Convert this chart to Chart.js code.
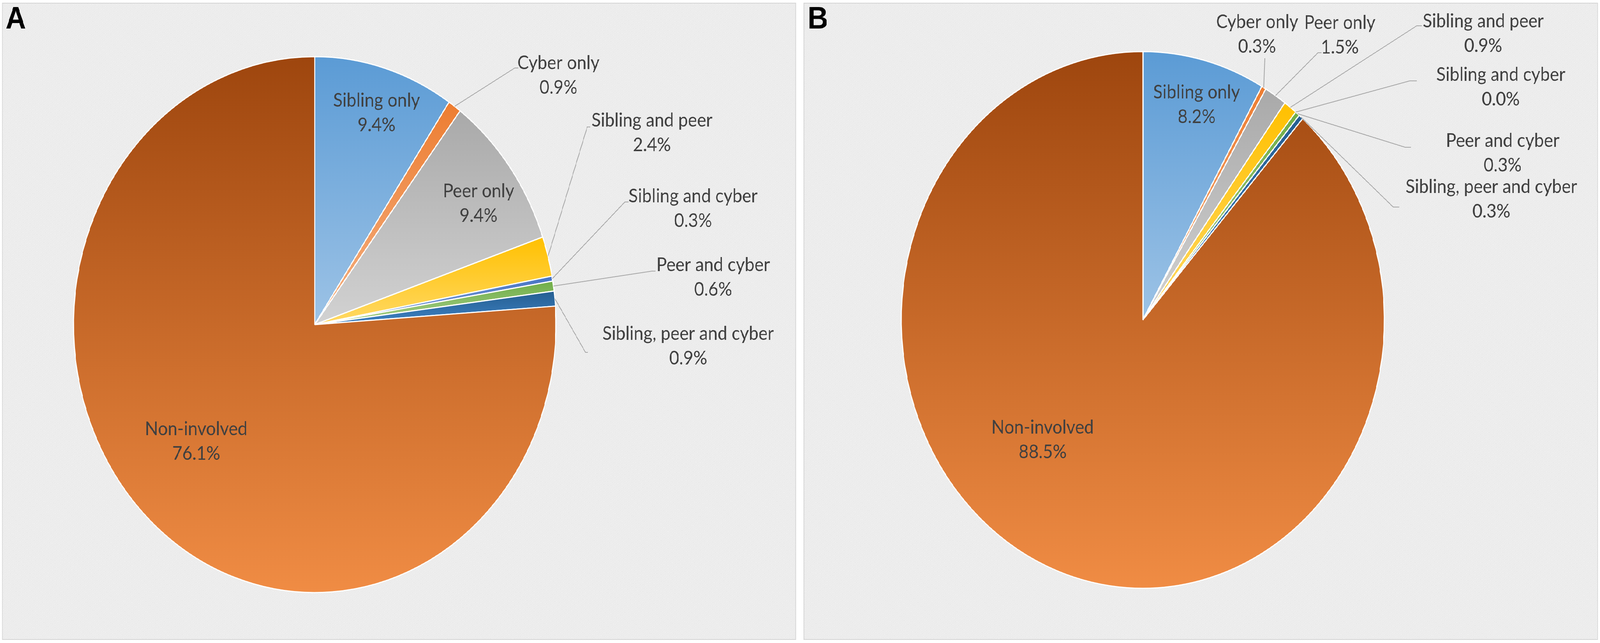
<!DOCTYPE html>
<html>
<head>
<meta charset="utf-8">
<script src="https://cdn.jsdelivr.net/npm/chart.js@4/dist/chart.umd.min.js"></script>
<style>
html,body{margin:0;padding:0;background:#ffffff;overflow:hidden;}
#stage{position:absolute;left:0;top:0;width:4550px;height:1646px;transform-origin:0 0;background:#ffffff;}
.panel{position:absolute;top:7px;height:1631px;box-sizing:border-box;border:2px solid #d4d4d4;
  background:repeating-linear-gradient(45deg,#f3f3f3 0px,#f3f3f3 1.6px,#e6e6e6 1.6px,#e6e6e6 3.2px);}
#pA{left:6px;width:2258px;}
#pB{left:2285px;width:2259px;}
canvas{position:absolute;left:0;top:0;}
</style>
</head>
<body>
<div id="stage">
<div class="panel" id="pA"></div>
<div class="panel" id="pB"></div>
<canvas id="cA" width="4550" height="1646"></canvas>
<canvas id="cB" width="4550" height="1646"></canvas>
</div>
<script>
// ---------- data ----------
const categories = ['Sibling only','Cyber only','Peer only','Sibling and peer','Sibling and cyber','Peer and cyber','Sibling, peer and cyber','Non-involved'];
const valuesA = [9.4, 0.9, 9.4, 2.4, 0.3, 0.6, 0.9, 76.1];
const valuesB = [8.2, 0.3, 1.5, 0.9, 0.0, 0.3, 0.3, 88.5];
const panelTitles = ['A', 'B'];

// ---------- style / layout ----------
const topColors    = ['#5B9BD5','#ED7D31','#A9A9A9','#FFC000','#4472C4','#70AD47','#255E91','#9E460E'];
const bottomColors = ['#9DC3E6','#F4B183','#D2D2D2','#FFD966','#8FAADC','#A9D18E','#3E82C4','#F08C44'];
const geomA = {cx: 895, cy: 831, r: 686};
const geomB = {cx: 3250, cy: 819, r: 687};
// label anchor: [center x, first-line baseline]
const labelPosA = [[1071,273],[1588,177],[1361,505],[1854,324],[1971,518],[2028,694],[1957,870],[558,1114]];
const labelPosB = [[3403,252],[3575,72],[3810,74],[4218,70],[4268,207],[4273,376],[4241,494],[2965,1110]];
// leader line end: [x, y, horizontal tail length]
const leaderA = [null,[1474,174,10],null,[1679,325,9],[1787,517,10],[1864,694,10],[1672,902,7],null];
const leaderB = [null,[3597,149,0],[3758,135,10],[4043,66,14],[4029,207,20],[4012,377,16],[3979,530,17],null];
const titleX = [16, 2297];
const W = 4550, H = 1646;

// fit the 4550x1646 design into whatever viewport the browser really has
(function fit() {
  const sx = (window.innerWidth || W) / W, sy = (window.innerHeight || H) / H;
  document.getElementById('stage').style.transform = 'scale(' + sx + ',' + sy + ')';
})();

function makeGradient(ctx, geom) {
  const chart = ctx.chart, area = chart.chartArea, i = ctx.dataIndex;
  if (!area) return topColors[i];
  const data = ctx.dataset.data;
  const total = data.reduce((a, b) => a + b, 0);
  let before = 0;
  for (let k = 0; k < i; k++) before += data[k];
  const a0 = -Math.PI / 2 + 2 * Math.PI * before / total;
  const a1 = a0 + 2 * Math.PI * data[i] / total;
  const cx = (area.left + area.right) / 2, cy = (area.top + area.bottom) / 2, r = geom.r;
  const ys = [cy, cy + r * Math.sin(a0), cy + r * Math.sin(a1)];
  if (a0 <= Math.PI / 2 && a1 >= Math.PI / 2) ys.push(cy + r);
  let y0 = Math.min(...ys), y1 = Math.max(...ys);
  if (y1 - y0 < 2) y1 = y0 + 2;
  const g = chart.ctx.createLinearGradient(0, y0, 0, y1);
  g.addColorStop(0, topColors[i]);
  g.addColorStop(1, bottomColors[i]);
  return g;
}

function build(fontSize) {
  const lineGap = 63;
  function makeChart(id, values, geom, labelPos, leaders, title, tx) {
    const pad = {left: geom.cx - geom.r, right: W - (geom.cx + geom.r), top: geom.cy - geom.r, bottom: H - (geom.cy + geom.r)};
    const labelPlugin = {
      id: 'labels_' + id,
      afterDraw(chart) {
        const c = chart.ctx, meta = chart.getDatasetMeta(0);
        c.save();
        c.strokeStyle = '#A6A6A6';
        c.lineWidth = 2;
        leaders.forEach((L, i) => {
          if (!L) return;
          const arc = meta.data[i];
          const mid = (arc.startAngle + arc.endAngle) / 2;
          const sx = arc.x + arc.outerRadius * Math.cos(mid);
          const sy = arc.y + arc.outerRadius * Math.sin(mid);
          c.beginPath();
          c.moveTo(sx, sy);
          c.lineTo(L[0] - L[2], L[1]);
          c.lineTo(L[0], L[1]);
          c.stroke();
        });
        c.fillStyle = '#404040';
        c.font = fontSize.toFixed(2) + 'px Lato';
        c.textAlign = 'center';
        c.textBaseline = 'alphabetic';
        labelPos.forEach((p, i) => {
          c.fillText(categories[i], p[0], p[1]);
          c.fillText(values[i].toFixed(1) + '%', p[0], p[1] + lineGap);
        });
        c.fillStyle = '#000000';
        c.font = 'bold 80px "Liberation Sans"';
        c.textAlign = 'left';
        c.fillText(title, tx, 73);
        c.restore();
      }
    };
    return new Chart(document.getElementById(id), {
      type: 'pie',
      data: {
        labels: categories,
        datasets: [{
          data: values,
          backgroundColor: (ctx) => makeGradient(ctx, geom),
          borderColor: '#FFFFFF',
          borderWidth: 3
        }]
      },
      options: {
        responsive: false,
        devicePixelRatio: 1,
        animation: false,
        events: [],
        radius: geom.r,
        layout: {padding: pad},
        plugins: {legend: {display: false}, tooltip: {enabled: false}}
      },
      plugins: [labelPlugin]
    });
  }
  makeChart('cA', valuesA, geomA, labelPosA, leaderA, panelTitles[0], titleX[0]);
  makeChart('cB', valuesB, geomB, labelPosB, leaderB, panelTitles[1], titleX[1]);
}

function start() {
  const m = document.createElement('canvas').getContext('2d');
  m.font = '100px Lato';
  const w = m.measureText('Sibling and peer').width;
  const fs = w > 0 ? 100 * 344 / w : 52;
  build(fs);
}
if (document.fonts && document.fonts.load) {
  Promise.all([document.fonts.load('52px Lato'), document.fonts.load('bold 80px "Liberation Sans"')]).then(start, start);
} else { start(); }
</script>
</body>
</html>
